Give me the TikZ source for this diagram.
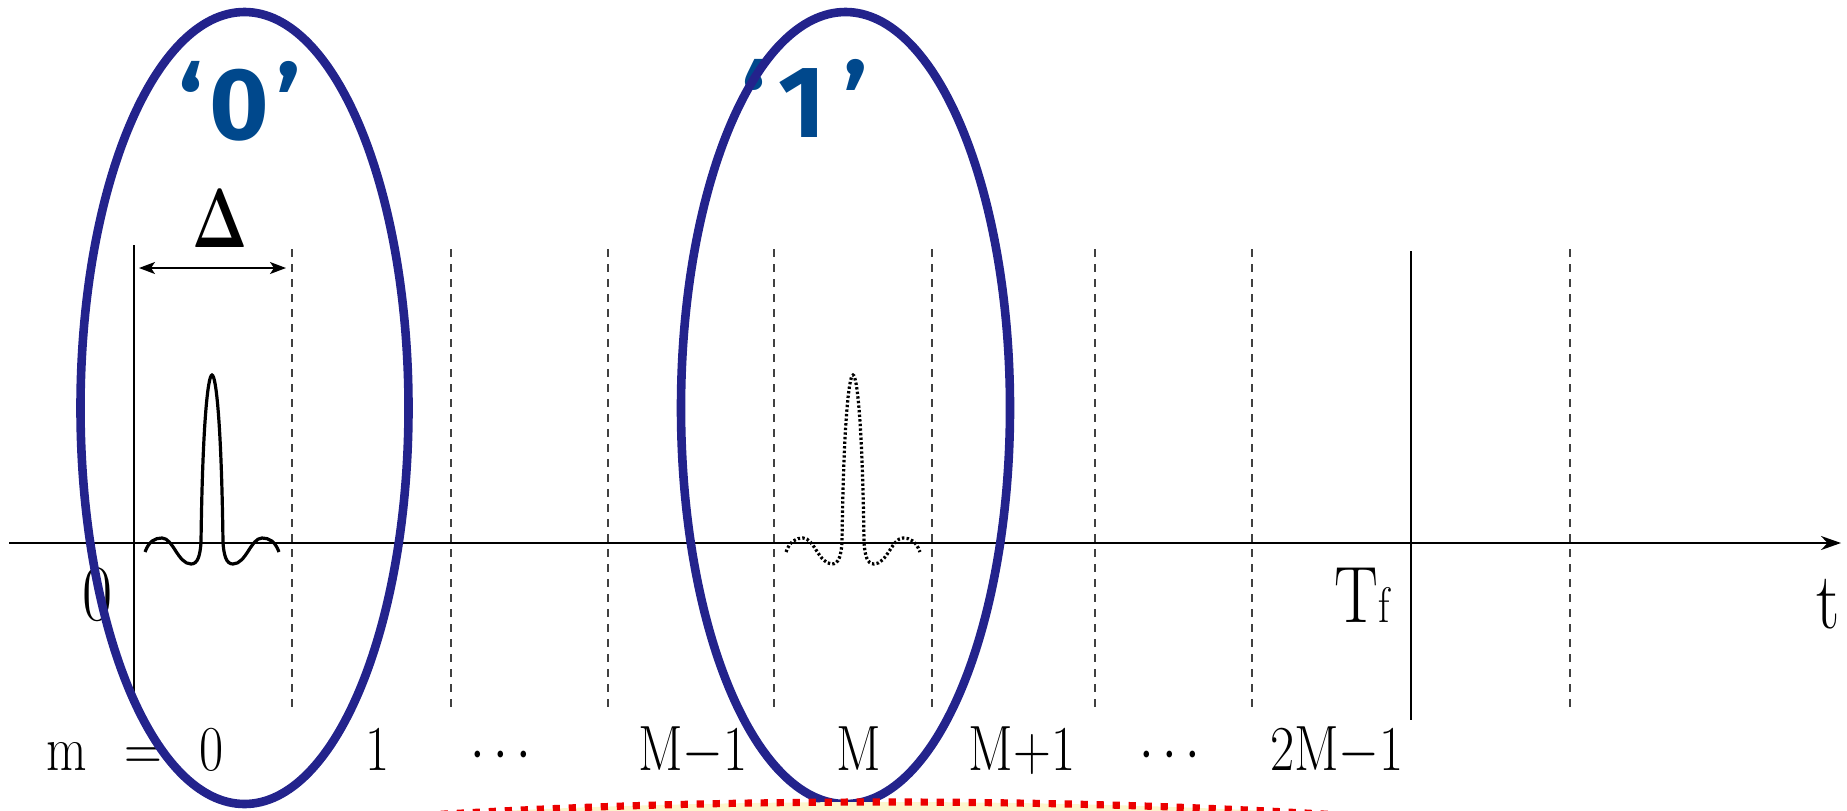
\documentclass[tikz,border=0pt]{standalone}
\usepackage{fix-cm}
\usepackage{graphicx}
\usepackage[no-math]{fontspec}
\newfontfamily\labelfont{Fira Sans}
\usetikzlibrary{arrows.meta,shapes.geometric}
\definecolor{ellblue}{RGB}{35,35,140}
\definecolor{lblblue}{RGB}{0,72,140}
\definecolor{dashred}{RGB}{235,0,0}
\definecolor{paleyellow}{RGB}{252,246,205}
\newcommand{\nrw}[1]{\scalebox{0.82}[1]{#1}}
\tikzset{
  axisline/.style={line width=1pt,-{Stealth[length=10pt,width=7pt]}},
  slotdash/.style={line width=0.65pt,draw=black!75,dash pattern=on 4pt off 3.5pt},
  slotsolid/.style={line width=0.75pt},
  dimline/.style={line width=0.75pt,{Stealth[length=8pt,width=6pt,inset=2pt]}-{Stealth[length=8pt,width=6pt,inset=2pt]}},
  pulseline/.style={line width=1.6pt},
  pulsedots/.style={line width=1.6pt,dash pattern=on 1.2pt off 1.1pt},
  lab/.style={anchor=base,inner sep=0pt,font=\fontsize{32}{32}\selectfont},
  biglab/.style={anchor=base,inner sep=0pt,font=\fontsize{40}{40}\selectfont},
  bit/.style={anchor=base,inner sep=0pt,text=lblblue,font=\labelfont\bfseries\fontsize{51}{51}\selectfont},
  grp/.style={ellipse,draw=ellblue,line width=4.3pt,inner sep=0pt},
  note/.style={draw=dashred,fill=paleyellow,line width=3.6pt,dash pattern=on 3.6pt off 4.4pt},
  pulse/.pic={\draw[pic actions] (-67,9) .. controls (-63,-2) and (-57,-5) .. (-50,-5)
     .. controls (-39,-5) and (-34,21) .. (-21,21)
     .. controls (-14,21) and (-12,12) .. (-11,0)
     .. controls (-9.5,-120) and (-4,-168) .. (0,-168)
     .. controls (4,-168) and (9.5,-120) .. (11,0)
     .. controls (12,12) and (14,21) .. (21,21)
     .. controls (34,21) and (39,-5) .. (50,-5)
     .. controls (57,-5) and (63,-2) .. (67,9);}
}
\begin{document}
\begin{tikzpicture}[x=0.5pt,y=-0.5pt]
\useasboundingbox (0,0) rectangle (1847,810);
\clip (0,0) rectangle (1847,810);
% slot boundaries
\foreach \x/\n in {292/1,451/2,608/3,774/4,932/5,1095/6,1252/7,1570/9}{
  \coordinate (s\n t) at (\x,249);
  \coordinate (s\n b) at (\x,710);
  \draw[slotdash] (s\n t) -- (s\n b);
}
\coordinate (s0t) at (134,245); \coordinate (s0b) at (134,693);
\draw[slotsolid] (s0t) -- (s0b);
\coordinate (s8t) at (1411,251); \coordinate (s8b) at (1411,720);
\draw[slotsolid] (s8t) -- (s8b);
% time axis
\coordinate (axL) at (9,543); \coordinate (axR) at (1841,543);
\draw[axisline] (axL) -- (axR);
% Delta
\coordinate (dL) at (139,268); \coordinate (dR) at (286,268);
\draw[dimline] (dL) -- (dR);
\node[anchor=base,inner sep=0pt,font=\fontsize{42}{42}\selectfont] (delta) at (220,247) {\scalebox{0.7}[1]{$\mathbf{\Delta}$}};
% pulses
\pic[pulseline] (p0) at (212,543) {pulse};
\pic[pulsedots] (p1) at (853,543) {pulse};
% axis labels
\node[biglab] (zero) at (98,620) {\nrw{0}};
\node[biglab] (tf) at (1362,622) {\nrw{T{\fontsize{25}{25}\selectfont f}}};
\node[biglab] (tt) at (1828,628) {\nrw{t}};
% slot indices
\node[lab] (im) at (67,770) {\nrw{m}};
\node[lab] (ieq) at (143,770) {\nrw{=}};
\node[lab] (i0) at (212,770) {\nrw{0}};
\node[lab] (i1) at (378,770) {\nrw{1}};
\node[lab] (id1) at (501,770) {\nrw{$\cdots$}};
\node[lab] (iMm) at (693,770) {\nrw{M$-$1}};
\node[lab] (iM) at (859,770) {\nrw{M}};
\node[lab] (iMp) at (1022,770) {\nrw{M+1}};
\node[lab] (id2) at (1170,770) {\nrw{$\cdots$}};
\node[lab] (i2M) at (1337,770) {\nrw{2M$-$1}};
% bit labels
\node[bit] (b0) at (240,139) {‘\hspace{3pt}0\hspace{4pt}’};
\node[bit] (b1) at (805,137) {‘\hspace{6pt}1\hspace{9pt}’};
% grouping ellipses
\node[grp,minimum width=164pt,minimum height=396pt] (g0) at (244.5,408) {};
\node[grp,minimum width=164.5pt,minimum height=396pt] (g1) at (845.5,408) {};
% callout (mostly outside the frame)
\coordinate (callout) at (884,897);
\draw[note] (callout) ellipse [x radius=900, y radius=95];
\end{tikzpicture}
\end{document}
